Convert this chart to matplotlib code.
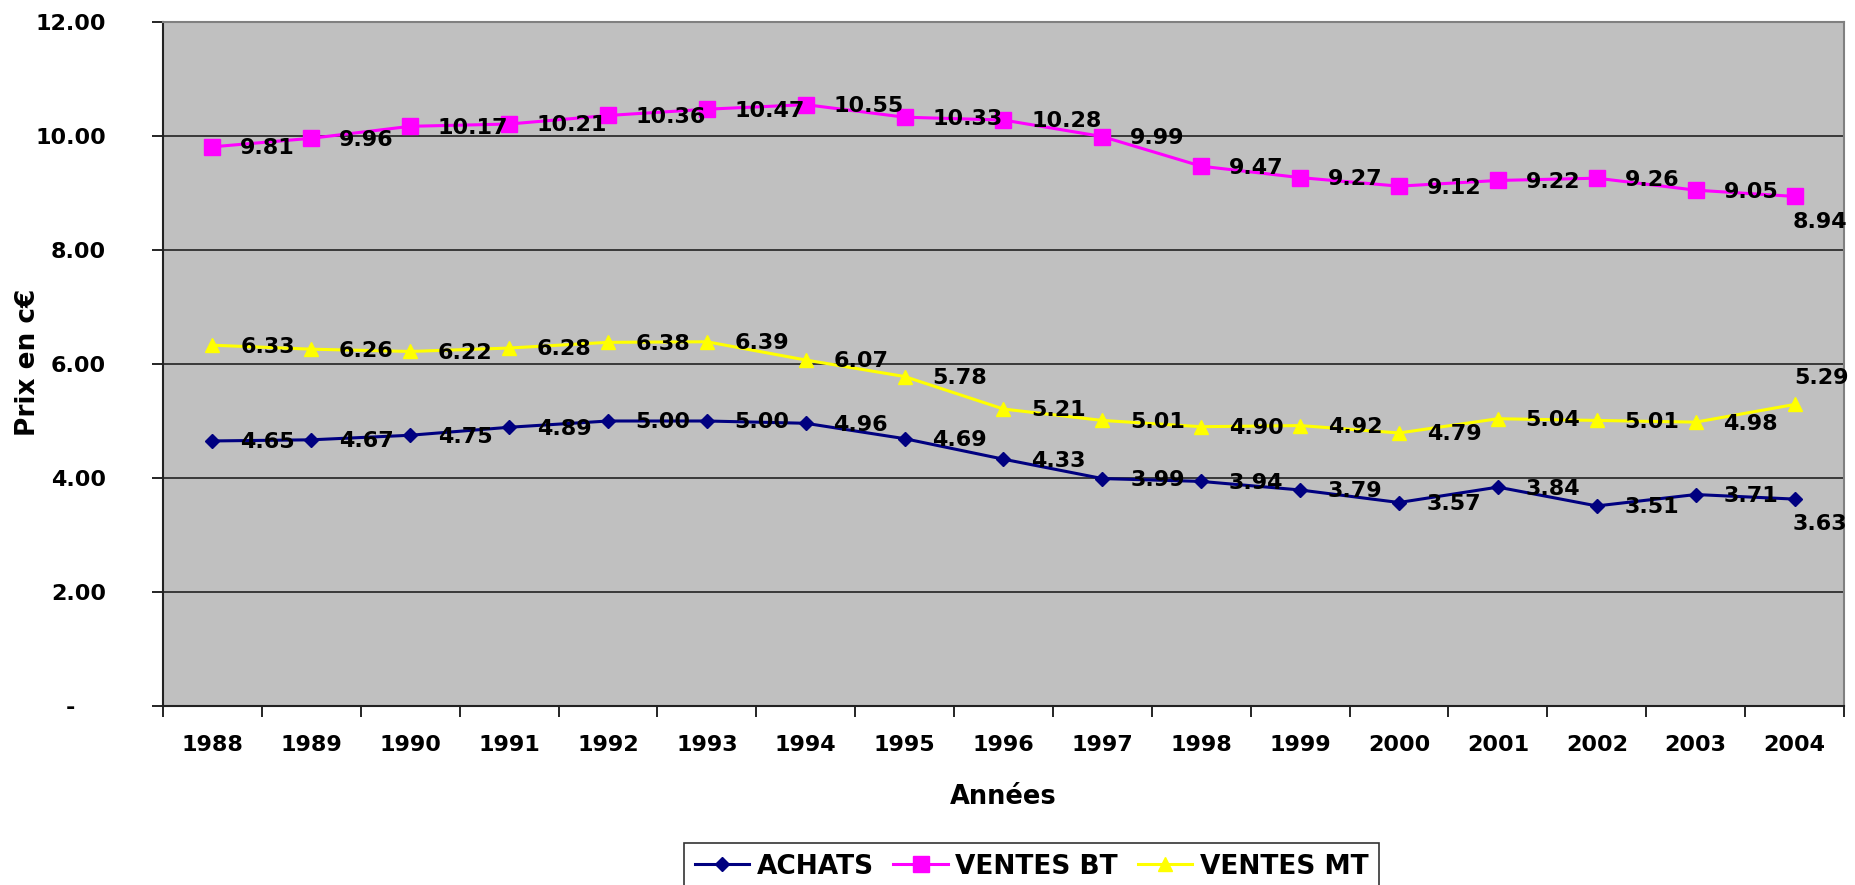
import matplotlib
matplotlib.use("Agg")
import matplotlib.pyplot as plt
import numpy as np
from matplotlib.lines import Line2D

years = ["1988","1989","1990","1991","1992","1993","1994","1995","1996",
         "1997","1998","1999","2000","2001","2002","2003","2004"]
achats = [4.65,4.67,4.75,4.89,5.00,5.00,4.96,4.69,4.33,3.99,3.94,3.79,3.57,3.84,3.51,3.71,3.63]
ventes_bt = [9.81,9.96,10.17,10.21,10.36,10.47,10.55,10.33,10.28,9.99,9.47,9.27,9.12,9.22,9.26,9.05,8.94]
ventes_mt = [6.33,6.26,6.22,6.28,6.38,6.39,6.07,5.78,5.21,5.01,4.90,4.92,4.79,5.04,5.01,4.98,5.29]
yticks = [0, 2, 4, 6, 8, 10, 12]
ytick_labels = ["-    ", "2.00", "4.00", "6.00", "8.00", "10.00", "12.00"]

plt.rcParams['font.family'] = ['DejaVu Sans']
W, H = 1856, 885
fig = plt.figure(figsize=(W/100, H/100), dpi=100)
L, R, T, B = 163, 1844, 22, 706
ax = fig.add_axes([L/W, 1-B/H, (R-L)/W, (B-T)/H])
ax.set_facecolor('#C0C0C0')

x = np.arange(len(years))
series = [
    ("ACHATS", achats, '#000080', 'D', 7.5),
    ("VENTES BT", ventes_bt, '#FF00FF', 's', 11),
    ("VENTES MT", ventes_mt, '#FFFF00', '^', 10.5),
]
LFS = 16
for name, vals, col, mk, ms in series:
    ax.plot(x, vals, color=col, lw=2.2, marker=mk, ms=ms, mec=col, mfc=col, zorder=3)
    for i, v in enumerate(vals):
        if i == len(vals) - 1:
            if name == "VENTES MT":
                ax.annotate(f"{v:.2f}", (x[i], v), xytext=(0, 12), textcoords='offset points',
                            ha='left', va='bottom', fontsize=LFS, fontweight='bold', zorder=4)
            else:
                ax.annotate(f"{v:.2f}", (x[i], v), xytext=(-1.5, -11), textcoords='offset points',
                            ha='left', va='top', fontsize=LFS, fontweight='bold', zorder=4)
        else:
            ax.annotate(f"{v:.2f}", (x[i], v), xytext=(20, -1), textcoords='offset points',
                        ha='left', va='center', fontsize=LFS, fontweight='bold', zorder=4)

ax.set_xlim(-0.5, len(years) - 0.5)
ax.set_ylim(0, 12)
ax.set_yticks(yticks)
ax.set_yticklabels(ytick_labels, fontsize=16, fontweight='bold')
ax.yaxis.grid(True, color='#222222', lw=1.2)
ax.set_axisbelow(True)
ax.set_xticks(x)
ax.set_xticklabels(years, fontsize=16, fontweight='bold')
ax.tick_params(axis='x', length=0, pad=21)
ax.set_xticks(np.arange(-0.5, len(years)), minor=True)
ax.tick_params(axis='x', which='minor', length=8, width=1.2, direction='out')
ax.tick_params(axis='y', length=8, width=1.2, direction='out', pad=33)

for s in ['left', 'bottom']:
    ax.spines[s].set_color('#222222')
    ax.spines[s].set_linewidth(1.5)
for s in ['top', 'right']:
    ax.spines[s].set_color('#808080')
    ax.spines[s].set_linewidth(1.5)

ax.set_ylabel("Prix en c€", fontsize=19, fontweight='bold')
ax.yaxis.label.set_va('center')
ax.yaxis.set_label_coords((28-L)/(R-L), (B-362)/(B-T))
ax.set_xlabel("Années", fontsize=18.5, fontweight='bold')
ax.xaxis.label.set_va('center')
ax.xaxis.set_label_coords(0.5, (B-797)/(B-T))

handles = [Line2D([0], [0], color=c, lw=2.2, marker=m, ms=ms, mec=c, mfc=c) for _, _, c, m, ms in series]
leg = fig.legend(handles, [s[0] for s in series], loc='upper left',
                 bbox_to_anchor=(684/W, 1-843/H), ncol=3, frameon=True, fancybox=False,
                 prop={'family': 'DejaVu Sans', 'weight': 'bold', 'size': 19},
                 handlelength=2.05, handletextpad=0.3, columnspacing=0.75, borderpad=0.4,
                 borderaxespad=0)
leg.get_frame().set_edgecolor('black')
leg.get_frame().set_linewidth(1.2)

fig.savefig("out.png", dpi=100)
